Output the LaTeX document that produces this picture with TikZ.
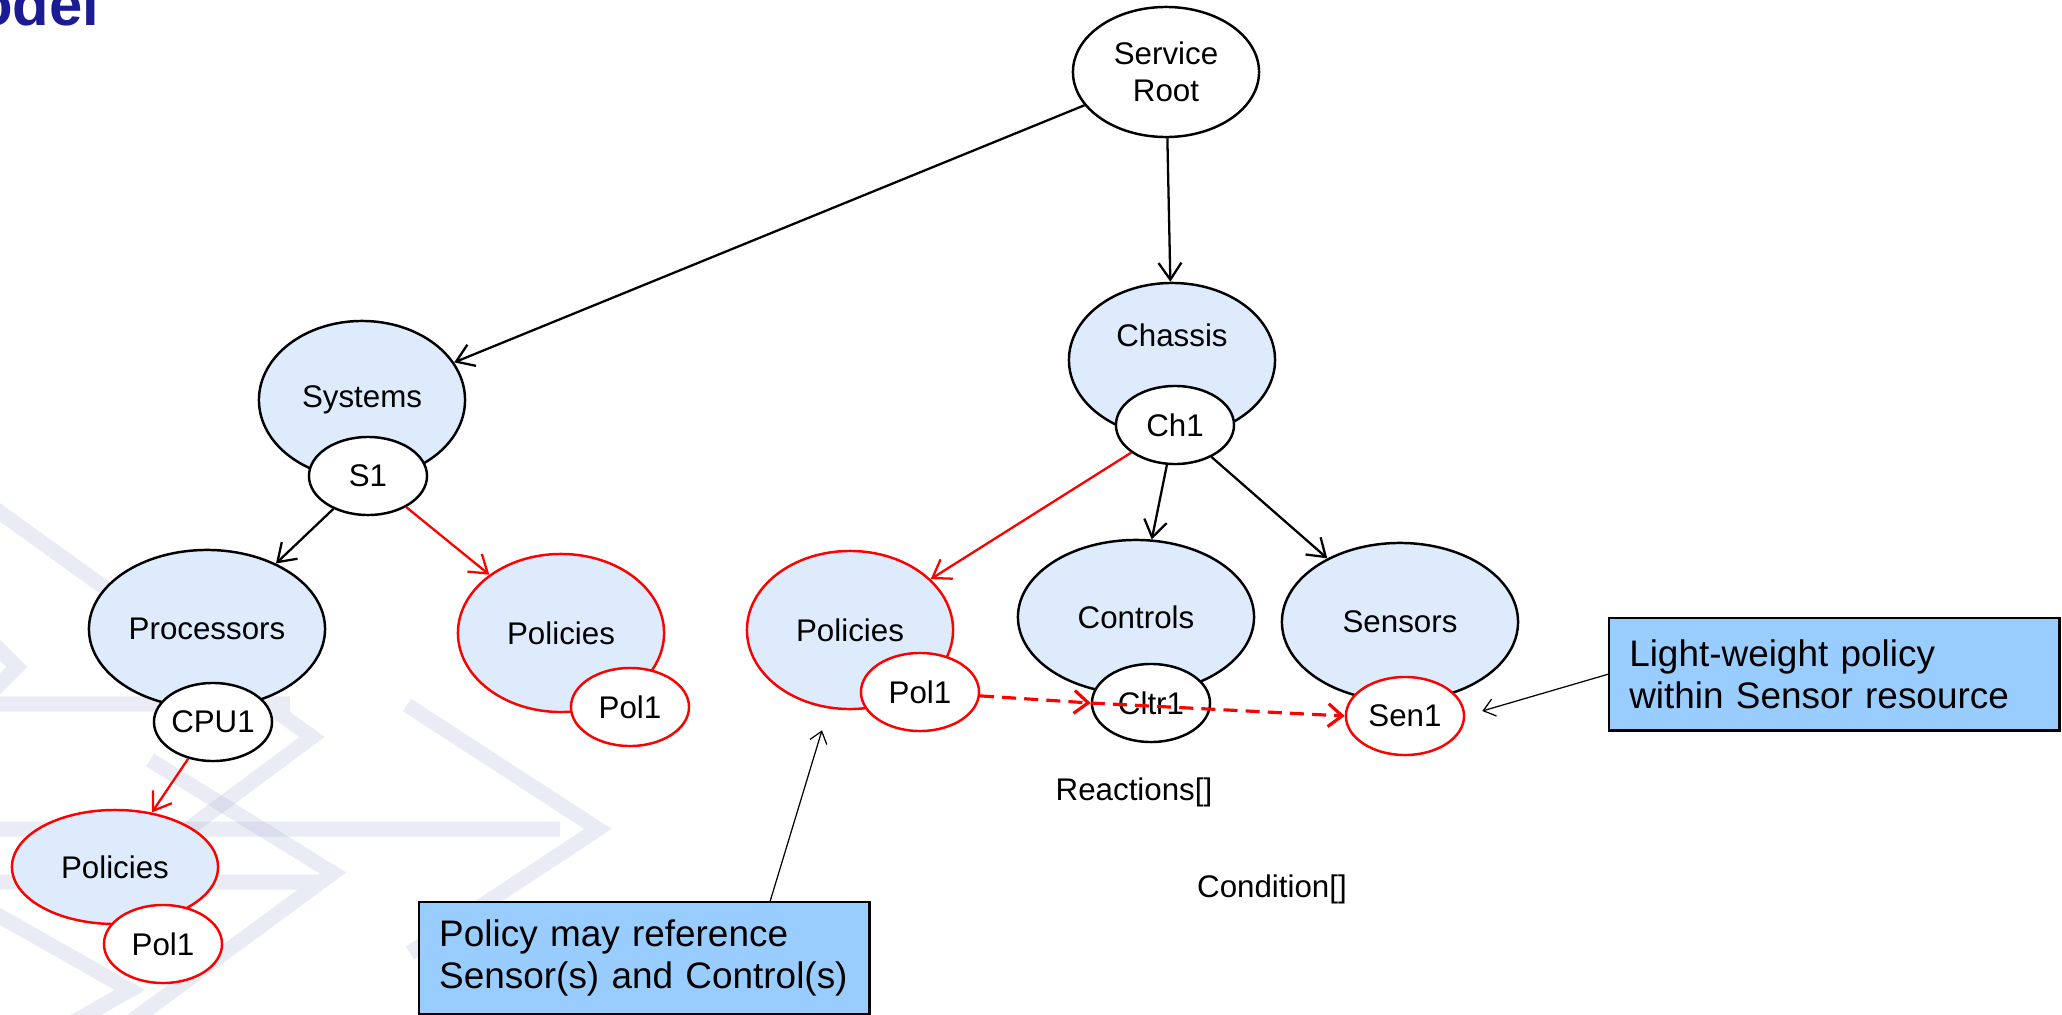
\documentclass[tikz,border=0pt]{standalone}
\usepackage{fontspec}
\setmainfont{Liberation Sans}
\usetikzlibrary{positioning,shapes.geometric,arrows.meta}
\definecolor{resfill}{RGB}{221,235,252}
\definecolor{notefill}{RGB}{153,204,255}
\definecolor{polred}{RGB}{255,0,0}
\definecolor{titleblue}{RGB}{27,27,150}
\definecolor{wmblue}{RGB}{175,185,215}

\begin{document}
\begin{tikzpicture}[x=0.01cm,y=-0.01cm,
  font=\fontsize{8.9}{10.5}\selectfont,
  res/.style={ellipse,draw,fill=resfill,line width=0.7pt,inner sep=1pt,minimum width=2.06cm,minimum height=1.58cm},
  wide/.style={minimum width=2.36cm},
  inst/.style={ellipse,draw,fill=white,line width=0.7pt,inner sep=0pt,minimum width=1.18cm,minimum height=0.78cm},
  pol/.style={draw=polred},
  link/.style={line width=0.65pt,-{Straight Barb[length=4.8pt,width=6.5pt]}},
  ref/.style={draw=polred,line width=0.9pt,dash pattern=on 4pt off 2.3pt,-{Straight Barb[length=4pt,width=6.5pt]}},
  note/.style={rectangle,draw,fill=notefill,line width=0.7pt,font=\fontsize{10.5}{12}\selectfont,align=left,text width=4.1cm,inner xsep=0.2cm,minimum height=1.12cm},
  notearrow/.style={line width=0.35pt,-{Straight Barb[length=3.2pt,width=5pt]}},
  wmark/.style={draw=wmblue,line width=0.15cm,opacity=0.27,line join=miter}]

\useasboundingbox (0,0) rectangle (2062,1015);

% faint arrows in the background
\draw[wmark] (-20,829) -- (560,829) (407,705) -- (598,829) -- (410,953);
\draw[wmark] (-20,704) -- (290,704) (-20,498) -- (312,737) -- (140,865);
\draw[wmark] (-20,882) -- (320,882) (150,760) -- (333,873) -- (133,1020);
\draw[wmark] (-20,630) -- (17,667) -- (-20,704);
\draw[wmark] (-20,905) -- (130,990) -- (-20,1075);

\node[font=\fontsize{17}{17}\selectfont\bfseries,text=titleblue,anchor=base east,inner sep=0pt] (title) at (100,25) {odel};

% resources
\node[ellipse,draw,fill=white,line width=0.7pt,minimum width=1.86cm,minimum height=1.3cm,align=center] (root) at (1166,72) {Service\\Root};
\node[res] (systems) at (362,400) {Systems};
\node[res,wide] (procs) at (207,629) {Processors};
\node[res,pol] (spol) at (561,633) {Policies};
\node[res,pol,minimum height=1.14cm] (cpol) at (115,867) {Policies};
\node[res,minimum height=1.54cm,label={[yshift=0.25cm]center:Chassis}] (chassis) at (1172,360) {};
\node[res,pol] (mpol) at (850,630) {Policies};
\node[res,wide,minimum height=1.54cm] (controls) at (1136,617) {Controls};
\node[res,wide] (sensors) at (1400,622) {Sensors};

% members
\node[inst] (s1) at (368,476) {S1};
\node[inst] (cpu1) at (213,722) {CPU1};
\node[inst,pol] (spol1) at (630,707) {Pol1};
\node[inst,pol] (cpol1) at (163,944) {Pol1};
\node[inst] (ch1) at (1175,425) {Ch1};
\node[inst,pol] (mpol1) at (920,692) {Pol1};
\node[inst] (cltr1) at (1151,703) {Cltr1};
\node[inst,pol] (sen1) at (1405,716) {Sen1};

\node[anchor=base] (reactions) at (1134,800) {Reactions[]};
\node[anchor=base] (condition) at (1272,897) {Condition[]};

\draw[link] (root) -- (systems);
\draw[link] (root) -- (chassis);
\draw[link] (s1) -- (procs);
\draw[link,polred] (s1) -- (spol);
\draw[link,polred] (cpu1) -- (cpol);
\draw[link,polred] (ch1) -- (mpol);
\draw[link] (ch1) -- (controls);
\draw[link] (ch1) -- (sensors);
\draw[ref] (mpol1) -- (cltr1.west);
\draw[ref] (cltr1.west) -- (sen1.west);

% call-outs
\node[note,anchor=north west] (notepol) at (418,901) {Policy may reference\\Sensor(s) and Control(s)};
\node[note,anchor=north west] (notesen) at (1608,617) {Light-weight policy\\within Sensor resource};
\draw[notearrow] ([xshift=3.52cm]notepol.north west) -- ([xshift=-0.28cm,yshift=-0.2cm]mpol.south);
\draw[notearrow] (notesen.west) -- ([xshift=0.17cm,yshift=0.05cm]sen1.east);
\end{tikzpicture}
\end{document}
